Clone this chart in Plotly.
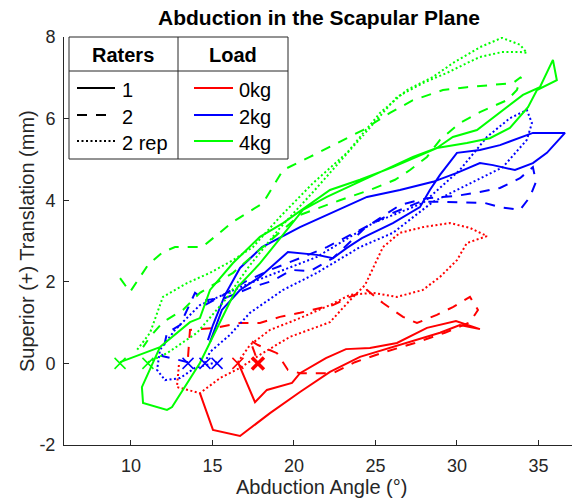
import plotly.graph_objects as go

# ---------------- data ----------------
# Rater 1 (solid), Rater 2 (dashed), Rater 2 repeat (dotted); loads 0kg (red), 2kg (blue), 4kg (green)
r1_0kg_x = [14.23, 15.03, 16.69, 18.53, 20.37, 22.21, 24.05, 26.50, 28.96, 30.18, 31.41, 29.94, 28.16, 26.32,
            24.66, 23.19, 21.96, 20.37, 19.88, 18.34, 17.61, 16.56]
r1_0kg_y = [-0.73, -1.63, -1.78, -1.22, -0.70, -0.21, 0.16, 0.45, 0.75, 0.94, 0.84, 1.04, 0.87, 0.50,
            0.38, 0.35, 0.13, -0.24, -0.48, -0.65, -0.95, 0.03]

r2_0kg_x = [13.50, 13.62, 15.15, 16.69, 17.91, 19.14, 20.37, 22.39, 23.44, 24.48, 25.46, 26.69, 27.55, 28.77,
            29.75, 30.80, 31.29, 30.80, 29.26, 27.42, 25.58, 23.74, 22.39, 20.37, 19.63, 18.96, 17.79, 17.30,
            17.55, 17.79]
r2_0kg_y = [0.16, 0.82, 0.87, 0.99, 0.99, 1.14, 1.24, 1.43, 1.63, 1.80, 1.48, 1.14, 0.99, 1.19,
            1.38, 1.63, 1.31, 1.01, 0.75, 0.50, 0.28, 0.03, -0.24, -0.24, -0.16, 0.25, 0.45, 0.57,
            0.30, 0.03]

r2rep_0kg_x = [12.94, 12.82, 14.23, 15.46, 16.69, 17.91, 19.75, 22.21, 23.44, 24.36, 24.80, 25.46, 26.50, 27.91,
               29.57, 30.80, 31.84, 30.61, 30.00, 28.96, 27.91, 26.32, 24.85, 23.44, 22.21, 20.37, 18.53,
               17.30, 16.56]
r2rep_0kg_y = [-0.04, -0.58, -0.73, -0.36, -0.11, 0.21, 0.65, 1.01, 1.55, 1.92, 2.29, 2.85, 3.20, 3.34,
               3.44, 3.32, 3.12, 2.95, 2.53, 2.12, 1.80, 1.63, 1.73, 1.68, 1.43, 1.11, 0.82,
               0.45, 0.03]

r1_2kg_x = [14.85, 15.58, 16.69, 17.91, 19.63, 21.41, 22.39, 23.25, 24.17, 26.07, 27.73, 28.34, 28.96, 30.00,
            31.41, 32.64, 34.66, 36.63, 35.52, 34.66, 33.56, 32.21, 31.41, 30.00, 28.53, 26.50, 24.48, 20.37,
            18.04, 16.69, 15.77, 15.03, 14.72]
r1_2kg_y = [0.52, 1.31, 1.80, 2.12, 2.73, 2.66, 2.58, 2.83, 3.07, 3.44, 3.83, 4.25, 4.62, 5.16,
            5.23, 5.35, 5.65, 5.65, 5.16, 4.91, 4.74, 4.86, 4.91, 4.67, 4.45, 4.25, 4.08, 3.34,
            2.85, 2.34, 1.68, 0.94, 0.57]

r2_2kg_x = [13.50, 11.90, 12.21, 13.01, 13.50, 13.93, 14.54, 15.77, 17.30, 18.65, 19.88, 20.98, 22.39, 24.36,
            26.50, 28.16, 29.88, 31.41, 32.64, 33.87, 34.66, 34.85, 34.48, 33.87, 32.64, 31.72, 29.26, 27.73,
            26.07, 24.85, 23.25, 22.02, 20.37, 18.53, 16.99, 15.46, 14.54]
r2_2kg_y = [0.03, 0.18, 0.75, 0.94, 1.36, 1.73, 1.55, 1.60, 1.85, 2.02, 2.29, 2.26, 2.58, 3.32,
            3.88, 4.05, 4.10, 4.20, 4.30, 4.54, 4.81, 4.45, 4.08, 3.76, 3.83, 3.93, 3.96, 3.96,
            3.69, 3.44, 3.10, 2.85, 2.58, 2.29, 2.00, 1.63, 1.43]

r2rep_2kg_x = [15.28, 13.93, 13.01, 12.09, 11.60, 11.78, 12.70, 14.23, 17.30, 21.41, 24.85, 27.91, 30.18, 31.84,
               33.25, 34.29, 34.60, 34.29, 32.82, 30.37, 28.53, 26.07, 24.05, 21.41, 19.33, 17.30, 16.07,
               14.85, 14.54]
r2rep_2kg_y = [0.03, -0.11, -0.36, -0.41, -0.16, 0.33, 0.82, 1.43, 1.97, 2.61, 3.44, 3.93, 4.74, 5.55,
               6.01, 6.21, 5.89, 5.48, 4.81, 4.32, 3.96, 3.20, 2.85, 2.22, 1.80, 1.24, 0.70,
               0.28, 0.03]

r1_4kg_x = [9.33, 11.78, 10.67, 10.74, 12.21, 12.52, 14.23, 15.46, 16.50, 17.91, 20.55, 22.02, 24.66, 27.30,
            28.77, 29.75, 31.23, 32.64, 34.05, 35.09, 35.89, 36.13, 34.91, 34.36, 33.25, 32.02, 30.61, 28.77,
            26.07, 24.05, 22.21, 19.33, 17.91, 16.26, 14.85, 14.23, 13.62, 11.78]
r1_4kg_y = [0.03, 0.40, -0.58, -0.97, -1.14, -1.07, 0.01, 0.99, 1.85, 2.45, 3.76, 4.08, 4.57, 5.06,
            5.28, 5.55, 5.72, 6.16, 6.58, 6.77, 7.44, 6.94, 6.70, 6.28, 5.77, 5.52, 5.40, 5.28,
            4.81, 4.50, 4.25, 3.44, 3.10, 2.46, 1.80, 1.11, 1.01, 0.40]

r2_4kg_x = [9.33, 9.94, 11.04, 11.96, 12.70, 14.36, 15.28, 16.26, 18.10, 19.33, 20.98, 22.64, 24.23, 25.89,
            27.30, 29.14, 30.61, 33.44, 33.93, 33.68, 33.07, 31.41, 30.18, 28.96, 28.16, 27.12, 26.20, 24.66,
            22.82, 20.37, 18.22, 17.12, 16.26, 14.23, 13.19, 11.96, 11.17, 10.74]
r2_4kg_y = [2.09, 1.75, 2.41, 2.73, 2.85, 2.85, 3.15, 3.47, 3.93, 4.74, 5.06, 5.40, 5.72, 6.14,
            6.45, 6.70, 6.77, 6.87, 7.02, 6.70, 6.45, 6.16, 5.89, 5.48, 5.06, 4.74, 4.50, 4.25,
            4.00, 3.64, 2.90, 2.53, 2.22, 1.73, 1.31, 1.01, 0.65, 0.40]

r2rep_4kg_x = [11.04, 12.21, 14.05, 15.77, 17.30, 19.14, 21.17, 22.82, 24.66, 26.32, 27.91, 29.39, 30.61, 31.41,
               32.76, 33.87, 34.29, 33.87, 32.76, 31.41, 29.75, 28.53, 26.93, 25.28, 23.25, 21.17, 19.14,
               17.48, 16.26, 14.85, 13.44, 11.96, 11.17, 10.37]
r2rep_4kg_y = [0.03, 0.25, 0.75, 1.55, 2.41, 3.32, 4.20, 4.94, 5.79, 6.53, 6.87, 7.12, 7.36, 7.51,
               7.63, 7.63, 7.61, 7.81, 7.98, 7.75, 7.36, 7.02, 6.70, 6.14, 5.16, 4.42, 3.59,
               2.85, 2.53, 2.22, 1.97, 1.63, 0.75, 0.33]

# start markers (x symbols at zero translation)
start_x = [9.33, 11.04, 13.50, 14.54, 15.28, 16.56, 17.79]
start_y = [0, 0, 0, 0, 0, 0, 0]
start_load = ["4kg", "4kg", "2kg", "2kg", "2kg", "0kg", "0kg"]
start_bold = [False, False, False, False, False, False, True]

x_ticks = [10, 15, 20, 25, 30, 35]
y_ticks = [-2, 0, 2, 4, 6, 8]
y_tick_text = ["-2", "0", "2", "4", "6", "8"]

rater_labels = ["1", "2", "2 rep"]
load_labels = ["0kg", "2kg", "4kg"]

# ---------------- styling ----------------
colors = {"0kg": "#ff0000", "2kg": "#0000ff", "4kg": "#00ff00"}
dashes = {"1": "solid", "2": "10px,9px", "2 rep": "2px,2.5px"}
FONT = "Arial, Liberation Sans, Helvetica, sans-serif"
AX = "#262626"

series = [
    ("1", "0kg", r1_0kg_x, r1_0kg_y),
    ("2", "0kg", r2_0kg_x, r2_0kg_y),
    ("2 rep", "0kg", r2rep_0kg_x, r2rep_0kg_y),
    ("1", "2kg", r1_2kg_x, r1_2kg_y),
    ("2", "2kg", r2_2kg_x, r2_2kg_y),
    ("2 rep", "2kg", r2rep_2kg_x, r2rep_2kg_y),
    ("1", "4kg", r1_4kg_x, r1_4kg_y),
    ("2", "4kg", r2_4kg_x, r2_4kg_y),
    ("2 rep", "4kg", r2rep_4kg_x, r2rep_4kg_y),
]

fig = go.Figure()
for rater, load, xs, ys in series:
    fig.add_trace(go.Scatter(x=xs, y=ys, mode="lines", showlegend=False,
                             line=dict(color=colors[load], width=2, dash=dashes[rater])))

for sx, sy, ld, bold in zip(start_x, start_y, start_load, start_bold):
    fig.add_trace(go.Scatter(x=[sx], y=[sy], mode="markers", showlegend=False,
                             marker=dict(symbol="x-thin-open", size=12 if bold else 11, color=colors[ld],
                                         line=dict(color=colors[ld], width=3.5 if bold else 1.5))))

W, H = 572, 500
L, R, T, B = 64, 0, 37, 55
pw, ph = W - L - R, H - T - B


def px(x):
    return (x - L) / pw


def py(y):
    return (H - B - y) / ph


fig.update_layout(
    width=W, height=H,
    margin=dict(l=L, r=R, t=T, b=B),
    paper_bgcolor="white", plot_bgcolor="white",
    font=dict(family=FONT, color=AX),
    xaxis=dict(range=[5.89, 37.06], tickvals=x_ticks, ticks="inside", ticklen=5, tickcolor=AX,
               showline=True, linecolor=AX, linewidth=1, mirror=False, showgrid=False, zeroline=False,
               tickfont=dict(size=18, color=AX), ticklabelstandoff=4),
    yaxis=dict(range=[-2, 8], tickvals=y_ticks, ticktext=y_tick_text, ticks="inside", ticklen=5, tickcolor=AX,
               showline=True, linecolor=AX, linewidth=1, mirror=False, showgrid=False, zeroline=False,
               tickfont=dict(size=18, color=AX), ticklabelstandoff=4),
)

ann = []
ann.append(dict(text="<b>Abduction in the Scapular Plane</b>", x=px(319), y=py(18), xref="paper", yref="paper",
                showarrow=False, xanchor="center", yanchor="middle", font=dict(size=21, color="black")))
ann.append(dict(text="Abduction Angle (°)", x=px(321), y=py(487), xref="paper", yref="paper",
                showarrow=False, xanchor="center", yanchor="middle", font=dict(size=20, color=AX)))
ann.append(dict(text="Superior (+) Translation (mm)", x=px(27), y=py(241), xref="paper", yref="paper",
                showarrow=False, xanchor="center", yanchor="middle", textangle=-90,
                font=dict(size=20, color=AX)))

# custom table legend
shapes = []
box = dict(x0=px(69), x1=px(288), y0=py(159), y1=py(37))
shapes.append(dict(type="rect", xref="paper", yref="paper", **box, fillcolor="white",
                   line=dict(color=AX, width=1), layer="above"))
shapes.append(dict(type="line", xref="paper", yref="paper", x0=px(69), x1=px(288), y0=py(71), y1=py(71),
                   line=dict(color=AX, width=1), layer="above"))
shapes.append(dict(type="line", xref="paper", yref="paper", x0=px(178), x1=px(178), y0=py(159), y1=py(37),
                   line=dict(color=AX, width=1), layer="above"))
ann.append(dict(text="<b>Raters</b>", x=px(123), y=py(55), xref="paper", yref="paper", showarrow=False,
                xanchor="center", yanchor="middle", font=dict(size=20, color="black")))
ann.append(dict(text="<b>Load</b>", x=px(233), y=py(55), xref="paper", yref="paper", showarrow=False,
                xanchor="center", yanchor="middle", font=dict(size=20, color="black")))
row_y = [88, 115, 141]
for i, lab in enumerate(rater_labels):
    shapes.append(dict(type="line", xref="paper", yref="paper", x0=px(77), x1=px(115), y0=py(row_y[i]),
                       y1=py(row_y[i]), line=dict(color="black", width=2, dash=dashes[lab]), layer="above"))
    ann.append(dict(text=lab, x=px(120), y=py(row_y[i] + 2), xref="paper", yref="paper", showarrow=False,
                    xanchor="left", yanchor="middle", font=dict(size=20, color="black")))
for i, lab in enumerate(load_labels):
    shapes.append(dict(type="line", xref="paper", yref="paper", x0=px(194), x1=px(233), y0=py(row_y[i]),
                       y1=py(row_y[i]), line=dict(color=colors[lab], width=2), layer="above"))
    ann.append(dict(text=lab, x=px(237), y=py(row_y[i] + 2), xref="paper", yref="paper", showarrow=False,
                    xanchor="left", yanchor="middle", font=dict(size=20, color="black")))

fig.update_layout(annotations=ann, shapes=shapes)
fig.write_html("out.html", config={"displayModeBar": False},
               post_script="document.body.style.margin='0';document.body.style.padding='0';")
